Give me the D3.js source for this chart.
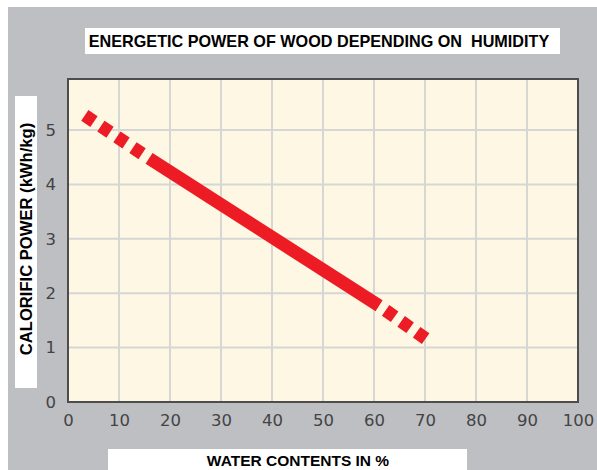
<!DOCTYPE html>
<html><head><meta charset="utf-8">
<script src="https://d3js.org/d3.v7.min.js"></script>
<style>body{margin:0;background:#fff}svg{display:block}</style>
</head><body>
<script>
const title = "ENERGETIC POWER OF WOOD DEPENDING ON  HUMIDITY";
const xTitle = "WATER CONTENTS IN %";
const yTitle = "CALORIFIC POWER (kWh/kg)";
const xTicks = [0,10,20,30,40,50,60,70,80,90,100];
const yTicks = [0,1,2,3,4,5];
const waterStart = [3.3, 15.9];   // dashed part (extrapolated)
const powerStart = [5.27, 4.48];
const waterMain = [15.9, 61.0];   // solid part
const powerMain = [4.48, 1.77];
const waterEnd = [61.0, 70.2];    // dashed part (extrapolated)
const powerEnd = [1.77, 1.16];

(function(){
const W = 597, H = 470;
const svg = d3.select("body").append("svg").attr("width", W).attr("height", H);
svg.append("rect").attr("x", 8).attr("y", 7).attr("width", W - 8).attr("height", H - 7).attr("fill", "#bebfc3");

const pL = 68, pR = 578, pT = 79, pB = 402;
const x = d3.scaleLinear().domain([0, 100]).range([pL, pR]);
const y = d3.scaleLinear().domain([0, 5.94]).range([pB, pT]);

svg.append("rect").attr("x", pL).attr("y", pT).attr("width", pR - pL).attr("height", pB - pT).attr("fill", "#fdf7e4");

const g = svg.append("g");
g.selectAll(".vg").data(xTicks.filter(d => d > 0 && d < 100)).join("line")
  .attr("x1", d => x(d)).attr("x2", d => x(d)).attr("y1", pT).attr("y2", pB)
  .attr("stroke", "#d6d6d4").attr("stroke-width", 2);
g.selectAll(".hg").data(yTicks.filter(d => d > 0)).join("line")
  .attr("y1", d => y(d)).attr("y2", d => y(d)).attr("x1", pL).attr("x2", pR)
  .attr("stroke", "#d6d6d4").attr("stroke-width", 2);

const line = d3.line().x(d => x(d[0])).y(d => y(d[1]));
const red = "#ed1c24";
svg.append("path").datum(d3.zip(waterStart, powerStart)).attr("d", line)
  .attr("fill", "none").attr("stroke", red).attr("stroke-width", 13).attr("stroke-dasharray", "11,8.3");
svg.append("path").datum(d3.zip(waterMain, powerMain)).attr("d", line)
  .attr("fill", "none").attr("stroke", red).attr("stroke-width", 13);
svg.append("path").datum(d3.zip(waterEnd, powerEnd)).attr("d", line)
  .attr("fill", "none").attr("stroke", red).attr("stroke-width", 13)
  .attr("stroke-dasharray", "11,8").attr("stroke-dashoffset", 11);

svg.append("rect").attr("x", pL).attr("y", pT).attr("width", pR - pL).attr("height", pB - pT)
  .attr("fill", "none").attr("stroke", "#4d4d4d").attr("stroke-width", 2);

const tickFont = "'DejaVu Sans', sans-serif";
const xAxis = svg.append("g").attr("transform", `translate(0,${pB})`)
  .call(d3.axisBottom(x).tickValues(xTicks).tickSize(0).tickPadding(12).tickFormat(d3.format("d")));
const yAxis = svg.append("g").attr("transform", `translate(${pL},0)`)
  .call(d3.axisLeft(y).tickValues(yTicks).tickSize(0).tickPadding(12).tickFormat(d3.format("d")));
[xAxis, yAxis].forEach(a => {
  a.select(".domain").remove();
  a.selectAll("text").attr("font-family", tickFont).attr("font-size", 16.5).attr("fill", "#444");
});

svg.append("rect").attr("x", 85).attr("y", 28).attr("width", 475).attr("height", 26).attr("fill", "#fff");
svg.append("text").attr("x", 319).attr("y", 47).attr("text-anchor", "middle")
  .style("white-space", "pre").attr("font-family", "'Liberation Sans', Arial, sans-serif")
  .attr("font-weight", "bold").attr("font-size", 16.2).attr("fill", "#000").text(title);

svg.append("rect").attr("x", 15).attr("y", 96).attr("width", 22).attr("height", 292).attr("fill", "#fff");
svg.append("text").attr("transform", "translate(32,239) rotate(-90)").attr("text-anchor", "middle")
  .attr("font-family", "'Liberation Sans', Arial, sans-serif").attr("font-weight", "bold")
  .attr("font-size", 16.6).attr("fill", "#000").text(yTitle);

svg.append("rect").attr("x", 108).attr("y", 449).attr("width", 359).attr("height", 21).attr("fill", "#fff");
svg.append("text").attr("x", 298).attr("y", 466).attr("text-anchor", "middle")
  .attr("font-family", "'Liberation Sans', Arial, sans-serif").attr("font-weight", "bold")
  .attr("font-size", 15.5).attr("fill", "#000").text(xTitle);
})();
</script>
</body></html>
